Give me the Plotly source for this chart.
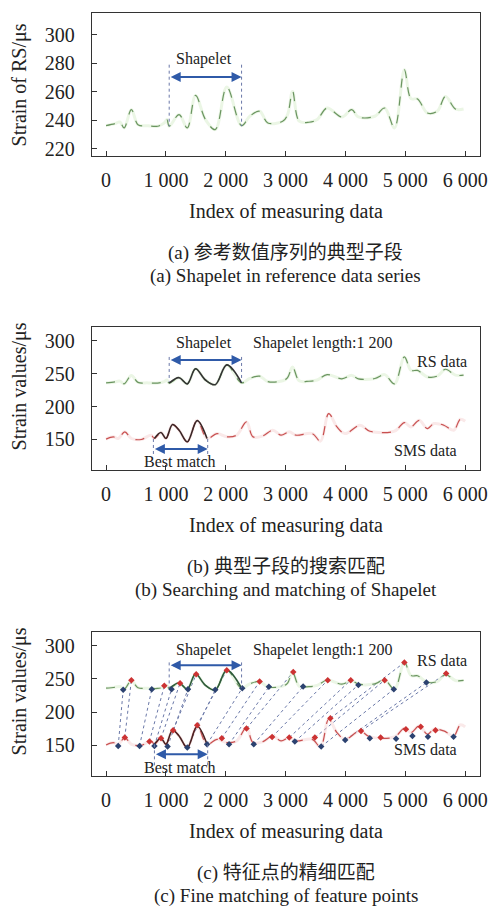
import plotly.graph_objects as go

# ---------------- data ----------------
rs_x = [0, 148, 231, 302, 423, 533, 698, 863, 973, 1017, 1055, 1220, 1357, 1495, 1660, 1824, 2017, 2264,
        2401, 2566, 2703, 2951, 3033, 3116, 3226, 3390, 3528, 3693, 3940, 4105, 4215, 4490, 4654, 4819,
        4984, 5094, 5204, 5369, 5533, 5671, 5836, 5973]
rs_y = [236.1, 237.5, 238.7, 234.5, 247.4, 236.8, 236.0, 235.7, 238.0, 240.4, 235.7, 243.9, 234.5, 257.4,
        240.4, 233.3, 263.3, 236.1, 242.7, 246.2, 238.0, 239.2, 243.9, 260.2, 239.2, 238.5, 240.4, 248.5,
        242.2, 247.4, 242.2, 242.7, 248.5, 234.5, 275.4, 255.1, 254.9, 245.0, 246.2, 256.7, 247.8, 247.8]

sms_x = [0, 121, 203, 313, 423, 588, 753, 808, 918, 1000, 1110, 1220, 1357, 1522, 1687, 1852, 2017, 2182,
         2346, 2456, 2621, 2786, 2923, 3061, 3171, 3445, 3583, 3720, 3858, 3995, 4242, 4407, 4819, 4984,
         5094, 5231, 5369, 5478, 5643, 5808, 5918, 6000]
sms_y = [150.5, 154.0, 151.5, 161.6, 151.5, 150.0, 156.6, 151.5, 160.6, 151.5, 172.7, 164.1, 146.5, 178.7,
         151.5, 159.0, 154.0, 156.6, 176.7, 154.0, 155.6, 164.1, 156.6, 161.6, 156.6, 159.0, 147.5, 189.3,
         169.1, 159.0, 171.7, 162.6, 162.6, 175.7, 169.1, 179.2, 166.6, 174.2, 171.7, 164.1, 180.7, 177.7]

# feature points (peaks / valleys); the i-th RS feature is matched to the i-th SMS feature
rs_fx = [286, 423, 764, 973, 1094, 1236, 1368, 1506, 1824, 2017, 2275, 2566, 2720, 3127, 3292, 3704, 4088,
         4215, 4654, 4808, 4984, 5352, 5682]
rs_fy = [233.6, 248.2, 234.6, 239.6, 234.6, 243.6, 234.6, 257.2, 233.6, 263.3, 236.1, 246.2, 238.1, 260.7,
         238.6, 248.2, 248.2, 241.1, 248.2, 234.6, 274.8, 244.6, 258.2]
rs_ftype = ["v", "p", "v", "p", "v", "p", "v", "p", "v", "p", "v", "p", "v", "p", "v", "p", "p",
            "v", "p", "v", "p", "v", "p"]

sms_fx = [203, 313, 560, 725, 808, 918, 1028, 1121, 1357, 1522, 1687, 1934, 2055, 2346, 2467, 2775, 3061,
          3154, 3489, 3594, 3748, 3995, 4259, 4407, 4587, 4845, 5010, 5119, 5257, 5378, 5504, 5806]
sms_fy = [149.0, 161.6, 149.0, 155.6, 149.0, 160.6, 148.0, 172.7, 146.5, 180.2, 151.5, 160.6, 151.5, 175.2,
          151.5, 162.6, 161.6, 155.6, 161.6, 148.0, 190.8, 158.1, 171.7, 160.6, 161.6, 160.0, 174.2, 164.0,
          178.0, 163.0, 172.7, 163.0]
sms_ftype = ["v", "p", "v", "p", "v", "p", "v", "p", "v", "p", "v", "p", "v", "p", "v", "p", "p",
             "v", "p", "v", "p", "v", "p", "v", "p", "v", "p", "v", "p", "v", "p", "v"]

shapelet_range = [1055, 2264]
match_range = [808, 1687]

x_tickvals = [0, 1000, 2000, 3000, 4000, 5000, 6000]
x_ticktext = ["0", "1 000", "2 000", "3 000", "4 000", "5 000", "6 000"]
ya_ticks = [220, 240, 260, 280, 300]
yb_ticks = [150, 200, 250, 300]

# ---------------- styling ----------------
W, H = 498, 911
SERIF = "Times New Roman, Liberation Serif, serif"
CJK = "Times New Roman, Noto Sans CJK SC"
TXT = "#222222"
GREEN_HAZE = "rgba(205,232,190,0.4)"
GREEN = "#6a9460"
RED_HAZE = "rgba(242,200,200,0.4)"
RED = "#c85050"
ARROW = "#2f5aa8"
GUIDE = "#6a78a8"
PEAK = "#cc3333"
VALLEY = "#2c4270"


def px(xp):
    return xp / W


def py(yp):
    return 1 - yp / H


fig = go.Figure()


def seg(xs, ys, lo, hi):
    pts = [(a, b) for a, b in zip(xs, ys) if lo <= a <= hi]
    return [p[0] for p in pts], [p[1] for p in pts]


def add_series(xs, ys, haze, col, xa, ya):
    fig.add_trace(go.Scatter(x=xs, y=ys, mode="lines", line=dict(color=haze, width=3, shape="spline"),
                             xaxis=xa, yaxis=ya, hoverinfo="skip"))
    fig.add_trace(go.Scatter(x=xs, y=ys, mode="lines",
                             line=dict(color=col, width=1.2, dash="dash", shape="spline"),
                             xaxis=xa, yaxis=ya))


# panel (a)
add_series(rs_x, rs_y, GREEN_HAZE, GREEN, "x", "y")
# panel (b)
add_series(rs_x, rs_y, GREEN_HAZE, GREEN, "x2", "y2")
add_series(sms_x, sms_y, RED_HAZE, RED, "x2", "y2")
sx, sy = seg(rs_x, rs_y, *shapelet_range)
fig.add_trace(go.Scatter(x=sx, y=sy, mode="lines", line=dict(color="#333333", width=1.6, shape="spline"),
                         xaxis="x2", yaxis="y2"))
mx, my = seg(sms_x, sms_y, *match_range)
fig.add_trace(go.Scatter(x=mx, y=my, mode="lines", line=dict(color="#3a2626", width=1.6, shape="spline"),
                         xaxis="x2", yaxis="y2"))
# panel (c)
lx, ly = [], []
for i in range(len(rs_fx)):
    lx += [sms_fx[i], rs_fx[i], None]
    ly += [sms_fy[i], rs_fy[i], None]
fig.add_trace(go.Scatter(x=lx, y=ly, mode="lines", line=dict(color=GUIDE, width=1, dash="dot"),
                         xaxis="x3", yaxis="y3"))
add_series(rs_x, rs_y, GREEN_HAZE, GREEN, "x3", "y3")
add_series(sms_x, sms_y, RED_HAZE, RED, "x3", "y3")
fig.add_trace(go.Scatter(x=sx, y=sy, mode="lines", line=dict(color="#2e5a3a", width=1.6, shape="spline"),
                         xaxis="x3", yaxis="y3"))
fig.add_trace(go.Scatter(x=mx, y=my, mode="lines", line=dict(color="#4a2222", width=1.6, shape="spline"),
                         xaxis="x3", yaxis="y3"))
fig.add_trace(go.Scatter(x=rs_fx, y=rs_fy, mode="markers",
                         marker=dict(symbol="diamond", size=5,
                                     color=[PEAK if t == "p" else VALLEY for t in rs_ftype]),
                         xaxis="x3", yaxis="y3"))
fig.add_trace(go.Scatter(x=sms_fx, y=sms_fy, mode="markers",
                         marker=dict(symbol="diamond", size=5,
                                     color=[PEAK if t == "p" else VALLEY for t in sms_ftype]),
                         xaxis="x3", yaxis="y3"))

# ---------------- axes ----------------
XDOM = [px(93), px(487)]
doms = [[py(157), py(13)], [py(472), py(328)], [py(779), py(634)]]
yranges = [[214.4, 315.4], [103, 321], [103, 321]]
yticks = [ya_ticks, yb_ticks, yb_ticks]

layout = dict(
    width=W, height=H, margin=dict(l=0, r=0, t=0, b=0),
    paper_bgcolor="white", plot_bgcolor="white", showlegend=False,
    font=dict(family=SERIF, size=20, color=TXT),
)
for i in range(3):
    sfx = "" if i == 0 else str(i + 1)
    layout["xaxis" + sfx] = dict(
        domain=XDOM, range=[-240, 6250], anchor="y" + sfx,
        tickmode="array", tickvals=x_tickvals, ticktext=x_ticktext,
        ticks="inside", ticklen=5, tickcolor="#333", showline=True, linecolor="#333", linewidth=1,
        mirror=True, showgrid=False, zeroline=False, ticklabelstandoff=6,
        tickfont=dict(family=SERIF, size=20, color=TXT), fixedrange=True,
    )
    layout["yaxis" + sfx] = dict(
        domain=doms[i], range=yranges[i], anchor="x" + sfx,
        tickmode="array", tickvals=yticks[i],
        ticks="inside", ticklen=5, tickcolor="#333", showline=True, linecolor="#333", linewidth=1,
        mirror=True, showgrid=False, zeroline=False, ticklabelstandoff=12,
        tickfont=dict(family=SERIF, size=20, color=TXT), fixedrange=True,
    )
fig.update_layout(**layout)

# ---------------- text ----------------
ann = []


def txt(text, xp, yp, size=20, fam=SERIF, angle=0):
    ann.append(dict(text=text, x=px(xp), y=py(yp), xref="paper", yref="paper", showarrow=False,
                    xanchor="center", yanchor="middle", textangle=angle,
                    font=dict(family=fam, size=size, color=TXT)))


# axis titles & captions
box_bottoms = [157, 472, 779]
captions = [("(a) 参考数值序列的典型子段", "(a) Shapelet in reference data series"),
            ("(b) 典型子段的搜索匹配", "(b) Searching and matching of Shapelet"),
            ("(c) 特征点的精细匹配", "(c) Fine matching of feature points")]
for b, (c1, c2) in zip(box_bottoms, captions):
    txt("Index of measuring data", 290, b + 55)
    txt(c1, 290, b + 97, size=19, fam=CJK)
    txt(c2, 290, b + 120, size=19)
txt("Strain of RS/μs", 20, 85, angle=-90)
txt("Strain values/μs", 20, 388, angle=-90)
txt("Strain values/μs", 20, 694, angle=-90)

# in-plot labels
txt("Shapelet", 207, 59, size=16)
txt("Shapelet", 207, 344, size=16)
txt("Shapelet length:1 200", 328, 344, size=16)
txt("RS data", 448, 363, size=16)
txt("SMS data", 432, 452, size=16)
txt("Best match", 183, 463, size=16)
txt("Shapelet", 207, 652, size=16)
txt("Shapelet length:1 200", 328, 652, size=16)
txt("RS data", 448, 663, size=16)
txt("SMS data", 432, 752, size=16)
txt("Best match", 183, 770, size=16)


def arrow(x0, x1, y, xa, ya):
    ann.append(dict(x=x1, y=y, ax=x0, ay=y, xref=xa, yref=ya, axref=xa, ayref=ya, text="",
                    showarrow=True, arrowhead=2, arrowside="end+start", arrowsize=1, arrowwidth=2,
                    arrowcolor=ARROW, standoff=0, startstandoff=0))


shapes = []


def vline(x, y0, y1, xa, ya):
    shapes.append(dict(type="line", x0=x, x1=x, y0=y0, y1=y1, xref=xa, yref=ya,
                       line=dict(color=GUIDE, width=1, dash="dot")))


arrow(shapelet_range[0], shapelet_range[1], 270.3, "x", "y")
vline(shapelet_range[0], 279, 235.7, "x", "y")
vline(shapelet_range[1], 279, 235.7, "x", "y")

arrow(shapelet_range[0], shapelet_range[1], 270.8, "x2", "y2")
vline(shapelet_range[0], 275.4, 237.6, "x2", "y2")
vline(shapelet_range[1], 275.4, 237.6, "x2", "y2")
arrow(791, 1698, 135.4, "x2", "y2")
vline(791, 150.8, 128, "x2", "y2")
vline(1698, 150.8, 128, "x2", "y2")

arrow(shapelet_range[0], shapelet_range[1], 270.7, "x3", "y3")
vline(shapelet_range[0], 275, 237, "x3", "y3")
vline(shapelet_range[1], 275, 237, "x3", "y3")
arrow(808, 1698, 136.4, "x3", "y3")
vline(808, 151.4, 118, "x3", "y3")
vline(1698, 151.4, 118, "x3", "y3")

fig.update_layout(annotations=ann, shapes=shapes)
fig.write_html("out.html", config={"displayModeBar": False},
               post_script="document.body.style.margin='0px';")
